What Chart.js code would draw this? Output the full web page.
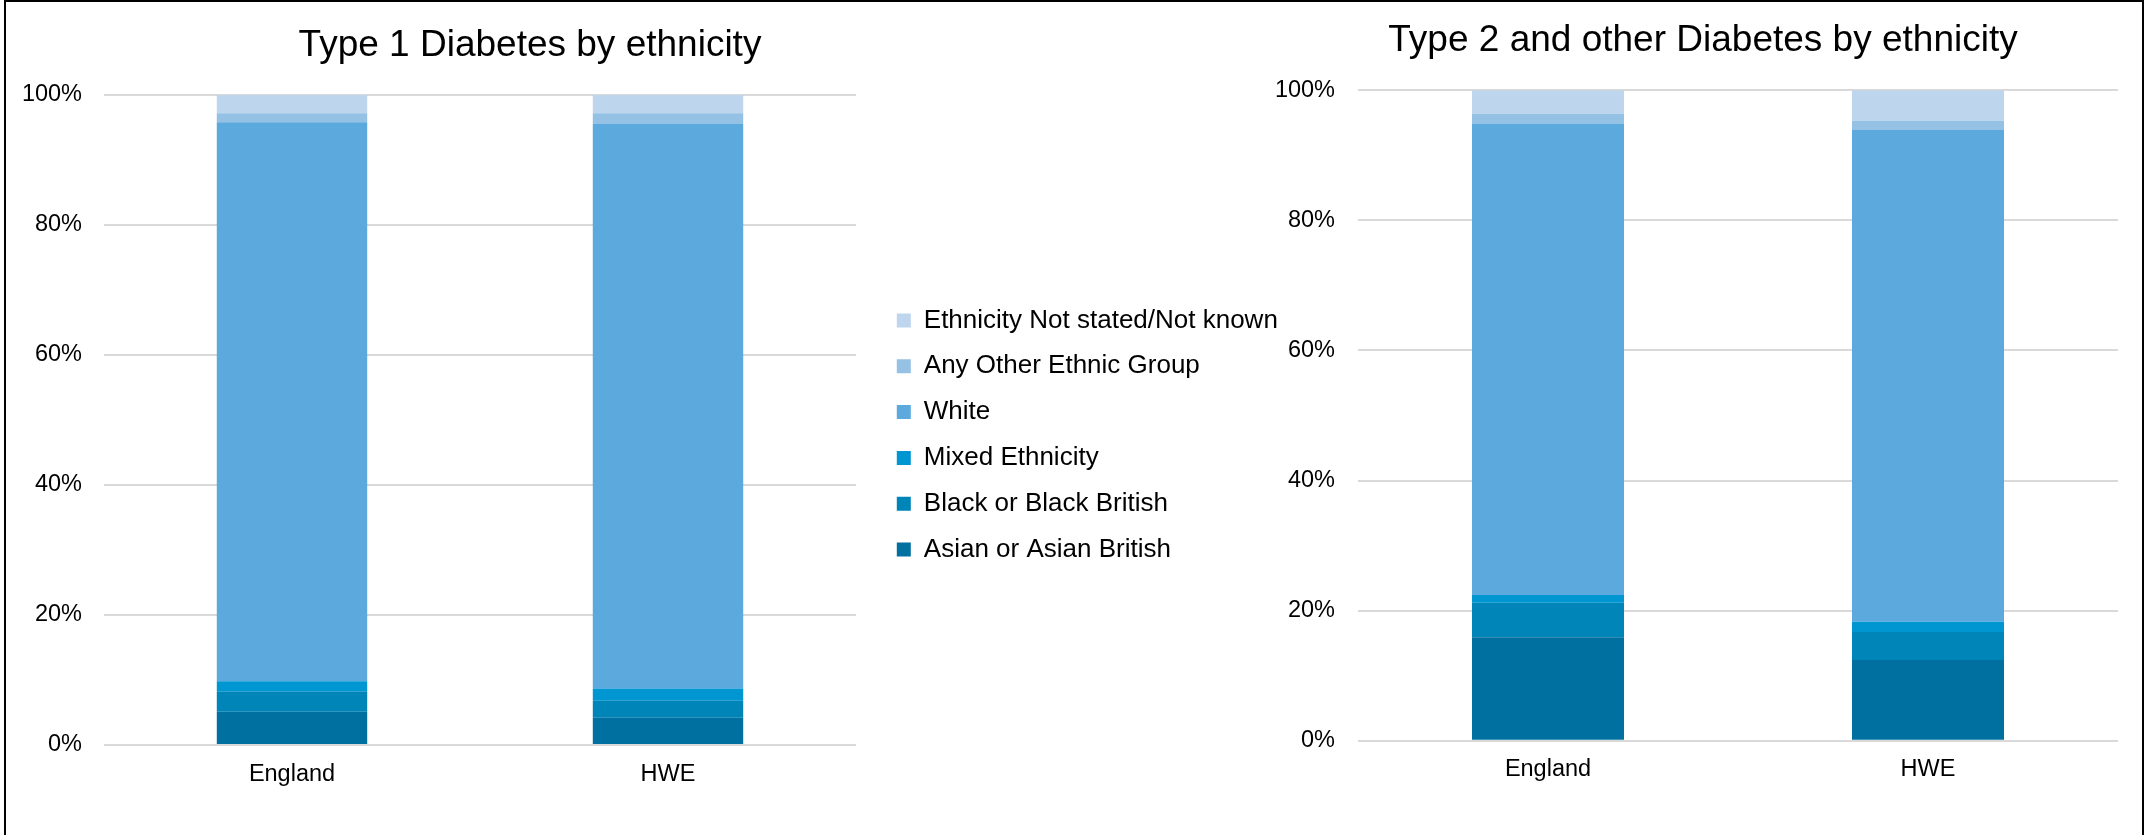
<!DOCTYPE html>
<html>
<head>
<meta charset="utf-8">
<script src="https://cdn.jsdelivr.net/npm/chart.js@4.4.1/dist/chart.umd.min.js"></script>
<style>
  html, body { margin: 0; padding: 0; background: #fff; overflow: hidden; }
  body { width: 2148px; height: 835px; position: relative; }
  #frame { position: absolute; left: 4px; top: 0; width: 2140px; height: 850px; border: 2px solid #000; box-sizing: border-box; }
  .box { position: absolute; top: 0; height: 835px; }
  #left { left: 0; width: 1060px; }
  #key { left: 877px; width: 860px; }
  #right { left: 1240px; width: 908px; }
</style>
</head>
<body>
<div id="frame"></div>
<div class="box" id="left"><canvas id="type1"></canvas></div>
<div class="box" id="key"><canvas id="legend"></canvas></div>
<div class="box" id="right"><canvas id="type2"></canvas></div>
<script>
  // categories
  var areas = ['England', 'HWE'];
  var groups = ['Asian or Asian British', 'Black or Black British', 'Mixed Ethnicity',
                'White', 'Any Other Ethnic Group', 'Ethnicity Not stated/Not known'];
  var colours = ['#0070a0', '#0085b9', '#0096d2', '#5ba9dd', '#95c1e4', '#bdd6ee'];

  // Type 1, % of patients [England, HWE]
  var t1Asian    = [5.1, 4.2];
  var t1Black    = [3.1, 2.6];
  var t1Mixed    = [1.6, 1.9];
  var t1White    = [86.0, 86.9];
  var t1Other    = [1.4, 1.6];
  var t1NotKnown = [2.8, 2.8];

  // Type 2 and other, % of patients [England, HWE]
  var t2Asian    = [15.9, 12.4];
  var t2Black    = [5.3, 4.3];
  var t2Mixed    = [1.2, 1.6];
  var t2White    = [72.5, 75.6];
  var t2Other    = [1.5, 1.4];
  var t2NotKnown = [3.6, 4.7];

  var yTicks = [0, 20, 40, 60, 80, 100];

  Chart.defaults.font.family = 'Arial, "Liberation Sans", sans-serif';
  Chart.defaults.color = '#000';
  Chart.defaults.animation = false;

  function buildSets(series) {
    var sets = [];
    for (var i = 0; i < groups.length; i++) {
      sets.push({
        label: groups[i],
        data: series ? series[i] : [],
        backgroundColor: colours[i],
        borderWidth: 0,
        barPercentage: 0.4,
        categoryPercentage: 1.0
      });
    }
    return sets;
  }

  // blank axis used only to hold space on the right of a plot
  function spacer(w) {
    return {
      position: 'right',
      grid: { display: false },
      ticks: { display: false },
      border: { display: false },
      afterFit: function(s) { s.width = w; }
    };
  }

  function axes(yWidth, xHeight, yPad, gapWidth) {
    return {
      x: {
        stacked: true,
        grid: { display: false },
        border: { display: false },
        ticks: { padding: 7, font: { size: 23.5 } },
        afterFit: function(s) { s.height = xHeight; }
      },
      y: {
        stacked: true,
        min: yTicks[0],
        max: yTicks[yTicks.length - 1],
        afterBuildTicks: function(s) { s.ticks = yTicks.map(function(v) { return { value: v }; }); },
        ticks: { padding: yPad, font: { size: 23.5 }, callback: function(v) { return v + '%'; } },
        grid: { color: '#d9d9d9', lineWidth: 2, drawTicks: false },
        border: { display: false },
        afterFit: function(s) { s.width = yWidth; }
      },
      gap: spacer(gapWidth)
    };
  }

  new Chart(document.getElementById('type1'), {
    type: 'bar',
    data: { labels: areas, datasets: buildSets([t1Asian, t1Black, t1Mixed, t1White, t1Other, t1NotKnown]) },
    options: {
      responsive: true,
      maintainAspectRatio: false,
      layout: { padding: 0 },
      plugins: {
        title: {
          display: true,
          text: 'Type 1 Diabetes by ethnicity',
          font: { size: 37, weight: 'normal' },
          padding: { top: 23.8, bottom: 26.8 }
        },
        legend: { display: false },
        tooltip: { enabled: false }
      },
      scales: axes(104, 90, 22, 204)
    }
  });

  // shared legend
  new Chart(document.getElementById('legend'), {
    type: 'bar',
    data: { labels: [], datasets: buildSets(null) },
    options: {
      responsive: true,
      maintainAspectRatio: false,
      layout: { padding: { top: 35, left: 0, right: 0, bottom: 0 } },
      plugins: {
        legend: {
          position: 'left',
          reverse: true,
          labels: { boxWidth: 14, boxHeight: 14, padding: 19.8, font: { size: 26 } }
        },
        tooltip: { enabled: false }
      },
      scales: { x: { display: false }, y: { display: false } }
    }
  });

  new Chart(document.getElementById('type2'), {
    type: 'bar',
    data: { labels: areas, datasets: buildSets([t2Asian, t2Black, t2Mixed, t2White, t2Other, t2NotKnown]) },
    options: {
      responsive: true,
      maintainAspectRatio: false,
      layout: { padding: { top: 0, right: 10, bottom: 0, left: 28 } },
      plugins: {
        title: {
          display: true,
          text: 'Type 2 and other Diabetes by ethnicity',
          font: { size: 37, weight: 'normal' },
          padding: { top: 18.3, bottom: 27.6 }
        },
        legend: { display: false },
        tooltip: { enabled: false }
      },
      scales: axes(90, 94.3, 23, 20)
    }
  });
</script>
</body>
</html>
